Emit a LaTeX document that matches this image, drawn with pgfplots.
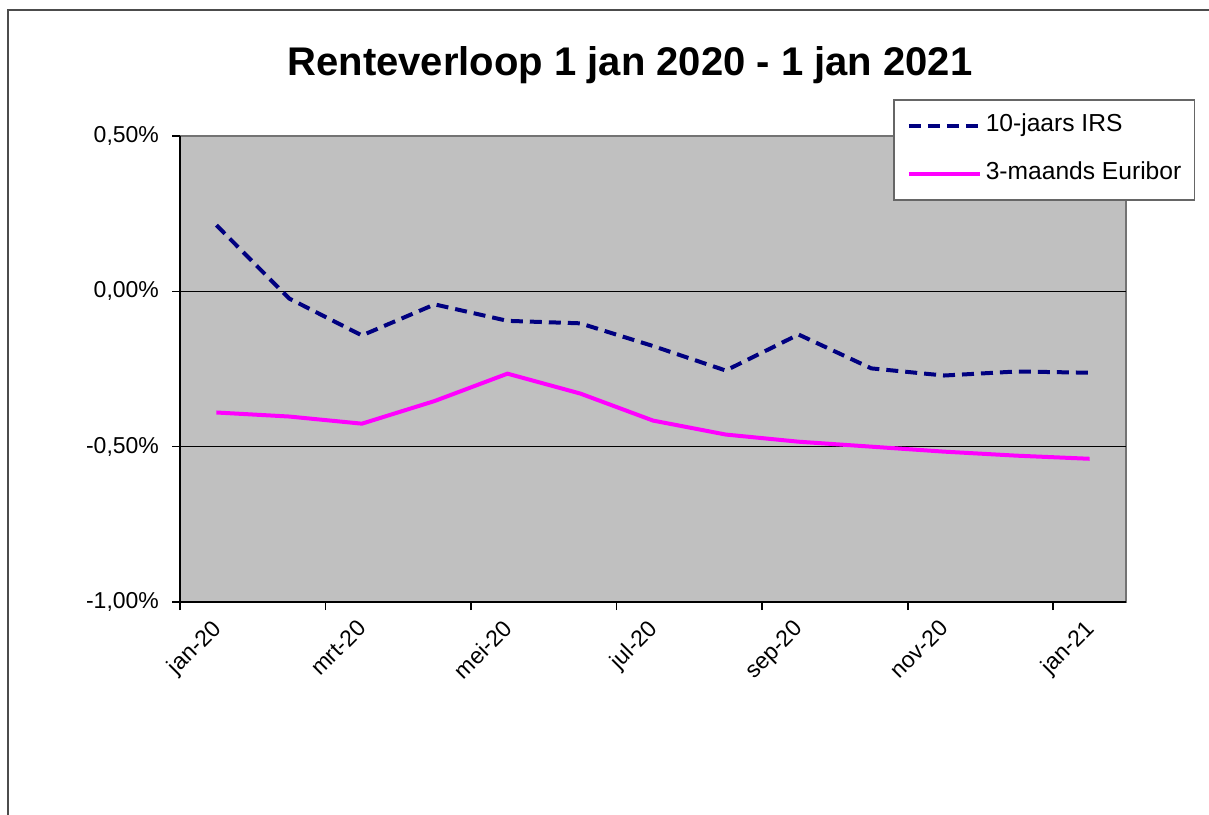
\documentclass[border=0pt]{standalone}
\usepackage{fontspec}
\setmainfont{Liberation Sans}
\usepackage{pgfplots}
\pgfplotsset{compat=1.18}
\definecolor{plotbg}{HTML}{C0C0C0}
\definecolor{irsnavy}{HTML}{000080}
\definecolor{eurmag}{HTML}{FF00FF}
\begin{document}
\begin{tikzpicture}
\useasboundingbox (0,0) rectangle (604.5pt,407pt);
\draw[black!70, line width=1pt] (3.75pt,-2pt) -- (3.75pt,402pt) -- (607pt,402pt);
\begin{axis}[
  at={(90pt,106pt)}, anchor=south west,
  scale only axis, width=473pt, height=233pt,
  xmin=-0.5, xmax=12.5, ymin=-1, ymax=0.5,
  axis background/.style={fill=plotbg, draw=black!55, line width=1pt},
  axis lines*=left,
  axis line style={-, black, line width=1pt},
  tick align=outside, tick pos=left,
  major tick length=4pt,
  tick style={black, line width=0.8pt},
  xtick={-0.5,1.5,3.5,5.5,7.5,9.5,11.5},
  xticklabels={},
  extra x ticks={0,2,4,6,8,10,12},
  extra x tick labels={jan-20,mrt-20,mei-20,jul-20,sep-20,nov-20,jan-21},
  extra x tick style={major tick length=0pt, tick style={draw=none},
    xticklabel style={xshift=-3pt, yshift=-8pt, rotate=45, anchor=north east,
      inner sep=0pt, font=\fontsize{11.5}{13}\selectfont}},
  ytick={-1,-0.5,0,0.5},
  yticklabels={{-1,00\%},{-0,50\%},{0,00\%},{0,50\%}},
  yticklabel style={xshift=-3pt, font=\fontsize{11.5}{13}\selectfont},
  extra y ticks={-0.5,0},
  extra y tick labels={},
  extra y tick style={grid=major, major tick length=0pt},
  major grid style={black, line width=0.7pt},
  every axis title shift=0pt,
  title={Renteverloop 1 jan 2020 - 1 jan 2021},
  title style={at={(axis description cs:0.4757,1.152)}, anchor=center, yshift=0pt,
    font=\fontsize{20}{24}\selectfont\bfseries},
  legend image code/.code={\draw[#1] (0pt,0pt) -- (35.5pt,0pt);},
  legend cell align=left,
  legend style={at={(axis description cs:0.7537,1.0794)}, anchor=north west,
    draw=black!60, line width=0.8pt, fill=white,
    inner xsep=6.5pt, inner ysep=7pt, row sep=12pt, column sep=2pt,
    font=\fontsize{12.3}{14}\selectfont,
    nodes={inner sep=0pt, text height=9pt, text depth=3pt}},
]
\addplot[irsnavy, line width=2pt, dash pattern=on 6pt off 3.5pt] coordinates {
 (0,0.213) (1,-0.023) (2,-0.142) (3,-0.042) (4,-0.095) (5,-0.103) (6,-0.176)
 (7,-0.255) (8,-0.139) (9,-0.248) (10,-0.271) (11,-0.258) (12,-0.262)};
\addlegendentry{10-jaars IRS}
\addplot[eurmag, line width=2pt] coordinates {
 (0,-0.390) (1,-0.403) (2,-0.426) (3,-0.353) (4,-0.265) (5,-0.329) (6,-0.416)
 (7,-0.461) (8,-0.484) (9,-0.500) (10,-0.516) (11,-0.529) (12,-0.539)};
\addlegendentry{3-maands Euribor}
\end{axis}
\end{tikzpicture}
\end{document}
